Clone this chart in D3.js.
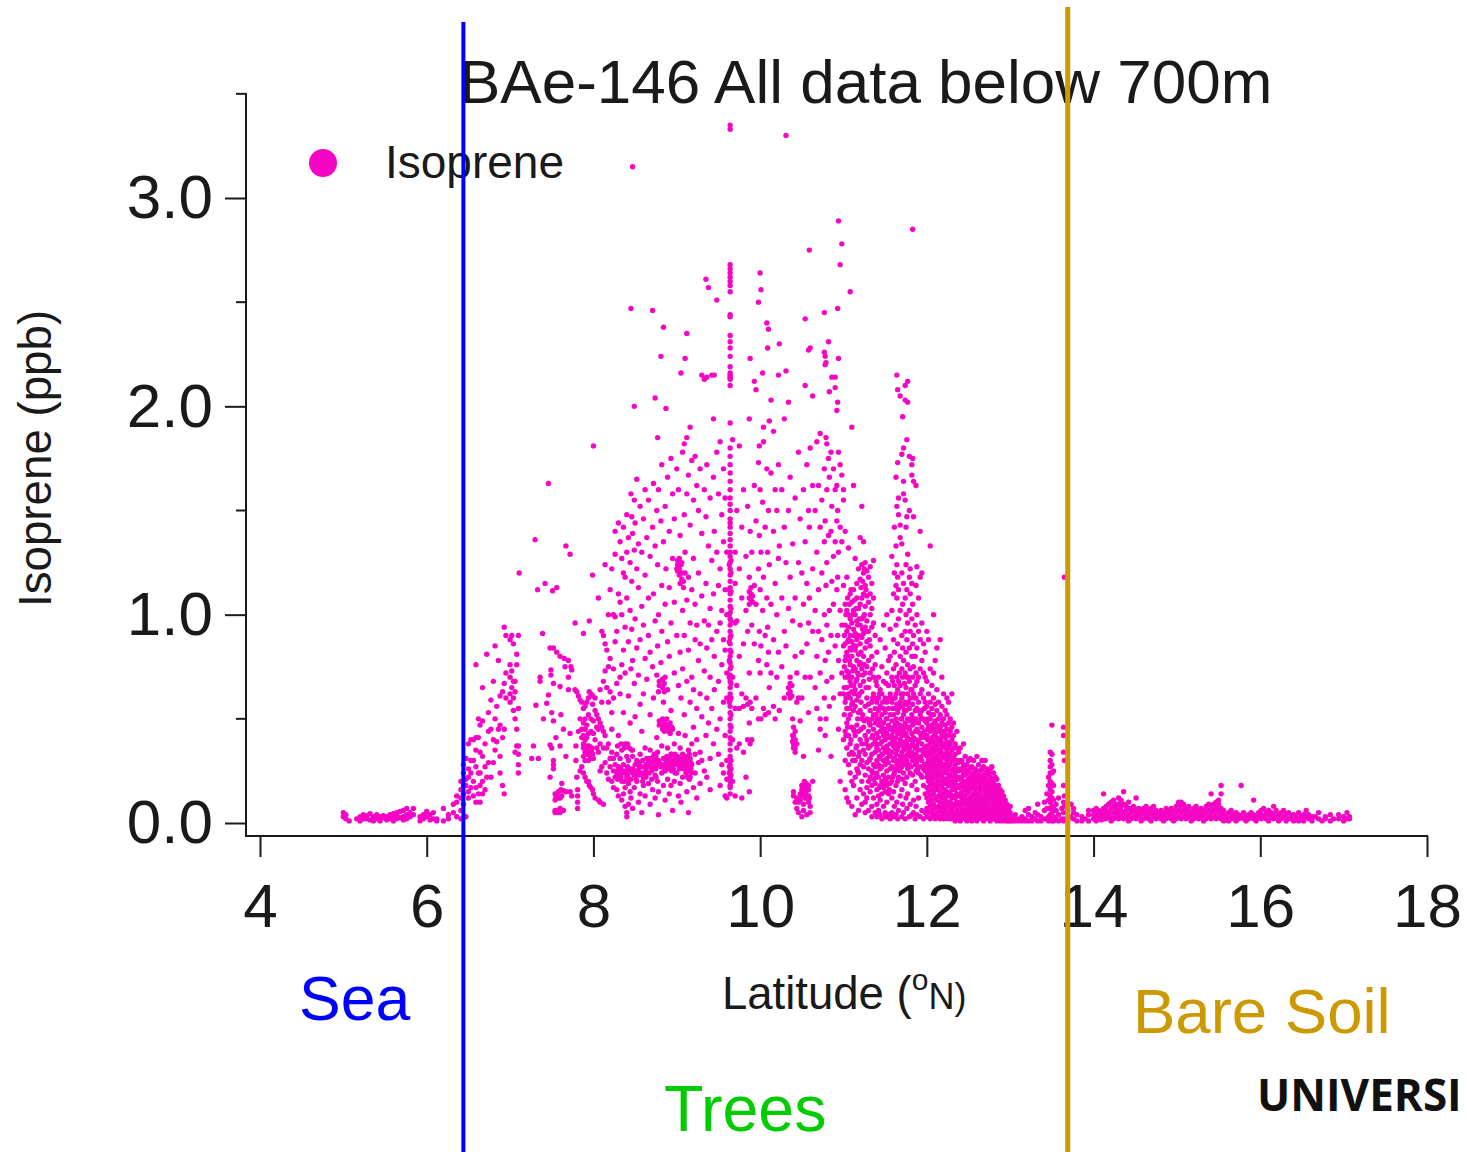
<!DOCTYPE html>
<html><head><meta charset="utf-8">
<script src="https://cdn.jsdelivr.net/npm/d3@7"></script>
<style>html,body{margin:0;padding:0;background:#fff;overflow:hidden}svg{display:block}</style>
</head><body><div id="chart"></div>
<script>
// Each row: [latitude, isoprene, isoprene, ...]
const seaRows=[[5.0,.05,.03],[5.03,.02,.04],[5.07,.01],[5.16,.02],[5.2,.03,.01],[5.24,.04,.02],[5.28,.02,.035],[5.32,.015,.045],[5.36,.03,.01],[5.4,.02,.04],[5.44,.01,.03],[5.48,.025,.035],[5.52,.015,.03],[5.56,.02,.04],[5.6,.01,.03,.045],[5.64,.02,.04,.05],[5.68,.025,.055],[5.72,.03,.06,.015],[5.76,.04,.07,.02],[5.8,.05,.03],[5.84,.07,.04],[5.92,.01,.03],[5.96,.02,.04],[6.0,.03,.055],[6.04,.04,.015],[6.08,.05,.02],[6.12,.02,.01],[6.2,.07,.01],[6.26,.02,.04],[6.32,.05,.09],[6.36,.03,.1,.13]];
const coastRows=[[6.41,.02,.06,.12,.16,.2],[6.44,.09,.14,.18,.24,.28],[6.47,.03,.18,.21,.31],[6.5,.12,.15,.22,.26,.38],[6.53,.17,.24,.3,.4],[6.56,.13,.2,.3,.4],[6.59,.1,.17,.27,.35,.41,.76],[6.62,.14,.24,.41,.5],[6.64,.1,.18,.34,.24,.47],[6.67,.14,.2,.32,.49,.65],[6.7,.16,.27,.38],[6.72,.22,.81],[6.74,.29,.44,.53],[6.77,.22,.45,.59],[6.8,.29,.4,.68],[6.82,.35,.5,.85],[6.84,.39,.56],[6.86,.45,.78],[6.88,.24,.32,.47,.61],[6.91,.18,.41,.63],[6.93,.14,.45,.67,.94],[6.95,.6,.72,.9],[7.0,.58,.62,.7,.76,.88],[7.02,.65,.73,.9],[7.04,.54,.6,.68,.86],[7.06,.34,.5,.63,.68],[7.08,.37,.45,.76,.81],[7.1,.24,.28,.33,.37,.55,.9]];
const westRows=[[7.11,1.2],[7.26,.31],[7.28,.37],[7.3,1.36],[7.31,.565],[7.33,1.12],[7.34,.31],[7.36,.7,.68],[7.39,.91],[7.4,.5],[7.42,1.15],[7.44,.575],[7.46,.615,1.63],[7.48,.22,.375,.84],[7.49,.71,.735],[7.5,.53,.36],[7.51,1.115],[7.52,.26,.28,.3,.49,.67,.84],[7.54,.11,.14,.05,.06],[7.55,.41,.12],[7.56,.82,1.13,.06,.14],[7.58,.05,.12,.15],[7.6,.05,.07,.37,.655,.8,.12],[7.61,.52,.16],[7.62,.19,.06,.13],[7.64,.45,.06,.155],[7.65,.79],[7.66,.75],[7.67,.32,1.33,.15],[7.7,.64,.7,.78],[7.72,.43,1.29,.15],[7.73,.75],[7.74,.735,.13],[7.78,.64,.96],[7.79,.37,.3],[7.8,.22,.63],[7.81,.07,.16,.13,.1],[7.82,.61,.44],[7.84,.59,.5,.25],[7.86,.58,.45,.41,.27],[7.88,.91,.36,.38,.32,.42,.48,.24,.55],[7.9,.34,.4,.45,.5,.56,.22,.3],[7.92,.33,.35,.37,.41,.47,.2,.58],[7.94,.3,.34,.43,.52,.6,.2],[7.95,.97,.33,.37,.63,.18],[7.97,.36,.5,.44,.17,.62],[7.99,1.19,.33,.57,.16,.61]];
const midARows=[[8.0,1.81,.31,.49,.43,.14],[8.02,.6,.54,.4,.12],[8.04,.52,.36,.46],[8.06,1.08,.5,.45,.11,.34],[8.08,.48,.38,.64,.1,.25],[8.1,.46,.92,.58,.27],[8.12,.44,.9,.68,.09,.36],[8.14,1.24,.86,.42,.29,.73],[8.16,.83,.65,.36,.24],[8.18,.38,.75,.58,.21,1.0],[8.2,.27,.79,.31,1.12,.63],[8.22,1.22,.53,.2,.34,.45],[8.24,.6,.25,.31,.17,.74,1.0],[8.26,1.4,1.29,.99,.87,.28,.22],[8.28,.67,.33,.23,.16,.92],[8.3,1.44,1.1,.42,.27,.13],[8.32,1.35,1.06,.7,.31,.24,.62],[8.34,1.27,1.0,.76,.35,.2,.11],[8.36,1.42,1.2,.83,.53,.28,.14],[8.38,1.18,.94,.72,.38,.25,.17,.08],[8.4,1.48,1.3,1.08,.32,.22,.05,.03],[8.42,1.37,.87,.61,.3,.19,.09],[8.44,1.25,1.02,.48,.26,.15],[8.45,2.47,1.58,.74,.21,.12],[8.46,1.47,1.16,.93,.35],[8.47,3.15,1.39,.78,.32,.07],[8.49,2.0,1.55,1.31,.67,.23,.17],[8.5,1.44,.98,.51,.28],[8.52,1.65,1.22,.84,.3,.2],[8.54,1.34,1.13,.71,.25,.1],[8.56,1.52,.88,.57,.33,.14],[8.58,1.3,1.04,.44,.27,.05],[8.6,1.46,.95,.62,.22,.18],[8.62,1.6,1.19,.79,.36,.13],[8.64,1.37,.69,.31,.24],[8.66,1.55,1.08,.9,.29,.19],[8.68,1.28,.82,.52,.35,.09],[8.71,2.46,1.42,.75,.26,.16],[8.72,1.63,1.1,.6,.32],[8.74,2.04,1.33,.97,.23,.12],[8.76,1.5,.71,.41,.28],[8.77,1.85,1.24,.85,.34,.2],[8.78,1.6,1.0,.63,.3,.15,.04],[8.81,2.24,1.45,.77,.27],[8.82,1.72,1.14,.92,.37,.24],[8.84,2.38,1.35,.58,.31,.18],[8.86,1.52,1.05,.7,.25,.11],[8.87,1.99,1.22,.47,.3],[8.89,1.66,.87,.64,.36,.21],[8.91,1.4,1.13,.8,.28,.14],[8.93,1.75,.96,.54,.33,.18],[8.95,1.58,1.27,.45,.26,.06],[8.97,1.46,1.06,.72,.38,.2]];
const midBRows=[[9.0,1.7,1.22,.9,.31,.24],[9.02,1.6,.66,.43,.28,.13],[9.04,1.38,1.15,.82,.36,.19],[9.05,2.16,1.24,.6,.27,.1],[9.07,1.78,1.02,.74,.33,.22],[9.09,1.82,1.48,.9,.52,.3],[9.1,2.23,1.3,1.2,.42,.26],[9.12,2.35,1.85,1.58,1.07,.68,.15],[9.14,1.67,1.18,.83,.35,.05],[9.16,1.9,1.43,.96,.58,.31,.22],[9.18,1.74,1.12,.7,.38,.28],[9.2,1.55,1.27,.64,.46,.17],[9.22,1.76,1.05,.88,.33,.24],[9.24,1.62,.95,.55,.4,.12],[9.26,1.5,1.2,.78,.29],[9.28,1.7,.86,.62,.19,.34],[9.3,2.15,1.39,1.09,.51,.3],[9.33,2.13,1.6,.97,.73,.25],[9.35,2.61,1.47,1.15,.42],[9.36,2.14,1.72,.84,.6,.22],[9.38,2.57,1.33,.95,.48],[9.4,1.56,1.03,.7,.31,.16],[9.42,2.15,1.26,.88,.55],[9.44,1.94,1.66,1.1,.38],[9.45,2.15,1.4,.8,.64],[9.48,2.51,1.78,1.3,.92,.45],[9.5,1.58,1.14,.68,.33],[9.52,1.83,1.22,.96,.5,.18],[9.54,1.48,1.02,.76,.28],[9.56,1.7,1.35,.88,.58,.24],[9.58,1.56,1.12,.83,.42,.13],[9.6,1.3,1.0,.72,.6,.3,.21,.12]];
const stripeRows=[[9.64,3.35,3.33,2.68,2.66,2.64,2.62,2.6,2.58,2.55,2.44,2.43,2.34,2.31,2.28,2.24,2.19,2.16,2.14,2.13,2.15,2.1,1.92,1.8,1.76,1.72,1.68,1.64,1.6,1.56,1.53,1.5,1.46,1.44,1.42,1.39,1.36,1.33,1.3,1.28,1.25,1.22,1.19,1.16,1.13,1.1,1.07,1.04,1.01,.98,.95,.92,.89,.86,.83,.8,.77,.74,.71,.68,.65,.62,.59,.56,.53,.5,.47,.44,.41,.38,.35,.32,.28,.25,.22,.2,.17,.14,.18],[9.65,1.26,1.2,1.11,1.03,.97,.9,.82,.75,.67,.6,.52,.46,.4,.3,.26,.23],[9.63,1.24,1.12,1.0,.87,.78,.7,.58,.24,.27]];
const centreRows=[[9.67,1.84,.7,.4,.2],[9.7,1.3,1.15,.96,.55,.13],[9.72,1.5,.97,.66,.36],[9.75,1.81,1.22,.8,.55,.38],[9.78,1.42,1.08,.62,.12],[9.8,1.6,.86,.56,.34],[9.83,1.28,1.02,.6,.22],[9.85,1.52,.92,.57,.4],[9.87,1.94,1.18,.72,.48,.15],[9.88,2.23,1.4,.58,.38],[9.9,1.3,.95,.55,.4],[9.93,2.12,1.62,1.14,.86],[9.95,2.08,1.45,1.05,.6],[9.98,2.5,1.73,1.22,.78,.5],[9.99,1.81,1.38,.92],[10.0,2.64,1.6,1.12,.72],[10.01,2.56,1.3,.85,.5],[10.03,2.16,1.54,1.02],[10.04,1.9,1.83,1.18,.55],[10.06,1.42,.9,.52],[10.08,2.4,1.7,1.08,.76],[10.09,2.28,1.3,.94],[10.1,2.37,1.5,.82,.53],[10.11,1.93,1.24,.65],[10.13,2.03,1.68,1.05,.72],[10.16,1.88,1.4,.88,.56],[10.18,1.6,1.15,.5],[10.2,1.5,1.0,.7],[10.22,2.15,1.72,1.27,.82],[10.23,2.3,1.33,.54],[10.26,1.6,1.08,.75],[10.29,1.94,1.42,.92,.6],[10.31,3.3,2.17,1.25,.85],[10.34,2.02,1.5,1.03],[10.36,1.66,1.18,.7],[10.39,1.34,.97,.5,.42,.39],[10.4,.46,.38,.15,.13],[10.42,1.56,1.08,.8,.4,.36,.1],[10.44,.72,.58,.38,.12,.07],[10.46,1.78,1.25,.6,.1,.05],[10.48,1.46,.95,.49,.11,.14],[10.5,1.2,.82,.6,.14,.03],[10.52,1.6,1.05,.32,.09,.06],[10.54,2.42,2.1,1.35,.7,.12],[10.56,1.72,1.15,.86,.16,.04],[10.58,2.27,1.5,.96,.53,.1],[10.59,2.75,1.42,1.08,.12],[10.6,2.28,1.8,.7,.08,.05],[10.63,2.05,1.62,1.22,.92,.2],[10.66,1.5,1.02,.65],[10.68,1.83,1.3,.8,.55],[10.7,1.62,1.12,.92,.35],[10.72,1.87,1.42,.72,.5,.45],[10.74,1.55,1.2,.88],[10.77,2.45,2.26,1.7,1.35,1.0,.6],[10.78,2.24,2.2,1.45,.78,.42],[10.79,2.21,1.85,1.14,.5],[10.8,1.82,1.6,1.25,.95,.68],[10.82,2.31,1.75,1.38,.82],[10.83,2.07,1.66,1.02,.56],[10.85,1.78,1.4,.9,.32],[10.86,2.14,1.52,1.16,.7],[10.88,1.7,1.28,1.05,.6],[10.9,2.14,2.09,1.6,1.35,.85],[10.92,1.98,1.62,1.45,1.12],[10.93,2.47,2.02,1.5,1.18,.9],[10.94,2.89,2.23,1.78,1.3,.78,.45],[10.96,2.68,1.72,1.42,1.02,.62,.2],[10.98,2.78,1.67,1.35,.95,.72],[11.0,1.55,1.6,1.14,.85,.62,.4]];
const clusterRows=[[7.96,.33,.35,.31],[7.98,.36,.32,.34],[8.29,.25,.21,.37],[8.33,.26,.22,.38],[8.37,.24,.2,.36],[8.41,.27,.23,.38],[8.43,.21,.25,.36],[8.47,.24,.26,.35],[8.51,.21,.25,.23],[8.55,.27,.23,.29],[8.59,.24,.3,.2],[8.63,.26,.22,.28],[8.67,.24,.31,.27],[8.7,.25,.29,.21],[8.73,.27,.3,.33],[8.75,.26,.22,.32],[8.79,.47,.49,.68,.66,.29],[8.83,.45,.47,.5,.65,.69,.28],[8.85,.48,.44,.67,.63,.26],[8.88,.46,.5,.32,.28],[8.9,.47,.44,.3,.26],[8.92,.43,.48,.31,.27],[8.94,.46,.33,.29,.25],[8.96,.3,.28,.26],[8.98,.29,.31,.33,.24],[9.01,1.24,1.21,1.26,.28,.32,.3],[9.03,1.27,1.22,1.19,.3,.26],[9.06,1.25,1.2,1.17,.29,.27,.31],[9.08,1.16,1.13,.3,.28,.26],[9.11,.32,.29,.27,.24],[9.13,.31,.28,.25,.22],[9.15,.33,.3,.27,.21],[9.17,.29,.26,.24],[9.87,1.11,1.08,1.05],[9.89,1.13,1.1,1.07],[9.91,1.09,1.06],[10.34,.65,.62],[10.36,.63,.67,.6],[10.38,.66,.61],[10.4,.42,.4,.36],[10.42,.44,.34],[10.5,.18,.16,.13],[10.53,.17,.14,.2],[10.55,.19,.15,.12],[10.58,.16,.13,.18],[11.01,.9,.75,.65,.52],[11.03,1.0,.8,.6,.42],[11.05,1.08,.87,.7,.46],[11.07,1.05,.78,.55,.33],[11.09,1.12,.83,.66,.4],[11.11,1.0,.73,.58,.3],[11.13,1.07,.9,.62,.44],[11.15,1.03,.85,.68,.36],[11.17,.95,.72,.5,.25],[11.19,.98,.76,.62,.34],[11.21,1.13,.82,.58,.45],[11.23,1.16,.93,.71,.52],[11.25,1.22,1.0,.76,.49],[11.27,1.12,.92,.65,.38],[11.31,.88,.69,.48,.3],[11.35,.74,.6,.42,.24],[11.39,.68,.52,.38,.22],[11.43,.62,.5,.32,.17],[11.47,.58,.44,.33,.19],[11.51,.67,.5,.36,.2],[11.55,.6,.46,.33,.16],[11.59,.68,.55,.4,.22],[11.62,.6,.47,.36,.25],[11.67,.72,.56,.44,.27],[11.69,.62,.5,.39,.31],[11.73,.67,.54,.42,.32],[11.78,.7,.58,.46,.35],[11.81,.64,.5,.37,.27],[11.85,.6,.48,.4,.3],[11.89,.54,.44,.35,.26],[11.93,.5,.41,.32,.23],[11.97,.55,.44,.36,.28],[12.01,.5,.45,.4,.34,.29,.24],[12.05,.52,.46,.39,.34,.27,.22],[12.09,.48,.42,.36,.31,.26,.16],[12.13,.46,.4,.35,.3,.24,.19],[12.17,.44,.39,.34,.29,.23,.13],[12.21,.43,.37,.32,.27,.21,.12],[12.25,.42,.36,.31,.26,.2,.1]];
const denseARows=[[11.02,1.4,1.05,.95,.86,.78,.7,.58,.44,.3,.16],[11.04,1.18,1.02,.92,.82,.73,.65,.55,.48,.36,.12],[11.06,1.32,1.0,.94,.88,.8,.72,.62,.5,.42,.28,.1],[11.08,2.55,1.1,.98,.9,.84,.76,.68,.6,.52,.38,.24],[11.1,1.9,1.06,.96,.87,.8,.7,.63,.57,.46,.34,.2,.08],[11.12,1.62,1.12,1.02,.93,.85,.75,.66,.54,.45,.33,.18],[11.14,1.27,1.0,.91,.83,.74,.64,.56,.42,.3,.22,.04],[11.16,1.15,1.08,.97,.88,.78,.69,.59,.47,.37,.26,.12],[11.18,1.22,1.03,.9,.81,.71,.61,.53,.44,.32,.24,.06],[11.2,1.37,1.17,1.05,.95,.86,.77,.66,.54,.4,.28,.16],[11.22,1.52,1.24,1.08,.98,.89,.74,.63,.5,.38,.3,.2,.09],[11.24,1.35,1.2,1.1,.99,.91,.8,.68,.46,.35,.27,.14],[11.26,1.25,1.14,1.04,.94,.84,.72,.56,.42,.33,.23,.1,.05],[11.28,1.21,1.09,.97,.87,.75,.6,.5,.4,.29,.17,.12],[11.3,1.18,1.06,.92,.78,.65,.57,.44,.36,.26,.2,.06],[11.32,1.23,1.1,1.0,.85,.72,.54,.47,.37,.31,.22,.15],[11.34,1.15,1.03,.94,.8,.58,.5,.41,.33,.25,.18,.08,.03],[11.36,1.26,1.08,.96,.7,.62,.52,.45,.38,.28,.21,.12],[11.38,.9,.76,.6,.55,.48,.4,.34,.27,.19,.05],[11.4,.82,.66,.58,.5,.43,.36,.3,.24,.16,.09,.03],[11.42,.7,.6,.54,.47,.41,.35,.28,.22,.13,.06],[11.44,.88,.64,.56,.49,.44,.38,.31,.26,.18,.11,.04],[11.46,.75,.62,.52,.46,.39,.33,.27,.2,.14,.02],[11.48,.95,.68,.55,.48,.42,.36,.3,.23,.17,.08],[11.5,.84,.6,.53,.45,.4,.34,.28,.21,.15,.05,.03]];
const denseBRows=[[11.52,1.0,.72,.58,.5,.43,.37,.31,.25,.18,.1,.03],[11.54,.78,.66,.55,.47,.41,.35,.29,.22,.14,.04],[11.56,.93,.8,.62,.52,.45,.38,.32,.26,.19,.02],[11.58,1.28,1.02,.7,.58,.49,.42,.34,.27,.2,.12,.05],[11.6,1.1,.88,.74,.6,.52,.44,.37,.3,.23,.15,.03],[11.61,1.42,1.2,.82,.66,.55,.46,.39,.31,.24,.08],[11.63,1.66,1.33,1.14,.95,.76,.62,.5,.41,.33,.26,.18,.04],[11.64,2.15,1.52,1.24,1.08,.7,.57,.48,.35,.28,.1],[11.65,2.08,1.73,1.18,.86,.64,.53,.43,.36,.29,.2,.02],[11.66,1.56,1.48,1.12,.98,.68,.55,.45,.38,.3,.22,.06],[11.68,2.05,1.43,1.37,1.02,.8,.66,.58,.47,.4,.32,.25,.13],[11.7,1.77,1.34,1.2,.9,.74,.6,.5,.42,.34,.27,.16,.03],[11.71,1.95,1.05,.84,.7,.56,.46,.37,.29,.21,.09],[11.72,1.8,1.64,1.58,1.15,.78,.62,.52,.44,.35,.24,.05],[11.74,2.1,2.03,1.55,1.08,.92,.72,.58,.48,.39,.31,.19,.02],[11.75,1.42,1.24,1.0,.82,.65,.54,.43,.36,.28,.12],[11.76,1.84,1.47,1.12,.88,.7,.57,.46,.38,.3,.22,.07],[11.77,2.12,2.02,1.29,.96,.76,.62,.5,.41,.33,.26,.14],[11.79,1.76,1.5,1.18,1.02,.84,.68,.55,.45,.36,.28,.03],[11.8,1.22,1.1,.92,.74,.6,.49,.4,.32,.24,.09],[11.82,1.72,1.67,1.15,.98,.8,.64,.52,.43,.34,.18,.04],[11.83,2.85,1.75,1.05,.86,.7,.57,.47,.38,.3,.23],[11.84,1.64,1.47,.9,.75,.62,.5,.41,.32,.11,.05],[11.86,.95,.8,.66,.54,.44,.36,.28,.2,.02],[11.87,1.62,1.14,.72,.6,.5,.4,.33,.25,.08],[11.88,1.23,1.0,.84,.68,.55,.45,.37,.29,.16,.04],[11.9,1.08,.92,.7,.58,.48,.39,.31,.24,.12],[11.92,1.4,1.18,.88,.74,.62,.52,.43,.35,.27,.03],[11.94,1.2,.96,.78,.64,.54,.46,.38,.3,.22,.06],[11.96,.86,.72,.6,.5,.42,.34,.26,.18,.02],[11.98,.82,.7,.58,.49,.41,.33,.25,.14,.05]];
const denseCRows=[[12.0,.92,.68,.56,.48,.42,.37,.32,.27,.22,.17,.12,.07,.03],[12.02,.88,.62,.53,.46,.4,.35,.3,.25,.2,.15,.1,.05],[12.04,1.33,.74,.58,.5,.44,.38,.33,.28,.23,.18,.13,.08,.02],[12.06,.66,.55,.47,.41,.36,.31,.26,.21,.16,.11,.06,.03],[12.08,1.0,.72,.6,.52,.45,.39,.34,.29,.24,.19,.14,.09,.04],[12.1,.78,.57,.49,.43,.37,.32,.27,.22,.17,.12,.07,.02],[12.12,.84,.64,.54,.47,.41,.36,.31,.26,.21,.16,.11,.05],[12.14,.58,.5,.44,.38,.33,.28,.23,.18,.13,.08,.03],[12.16,.88,.52,.46,.4,.35,.3,.25,.2,.15,.1,.06,.02],[12.18,.7,.56,.48,.42,.37,.32,.27,.22,.17,.12,.07,.04],[12.2,.62,.5,.44,.38,.33,.28,.24,.19,.14,.09,.05,.02],[12.22,.54,.47,.41,.36,.31,.26,.21,.16,.11,.07,.03],[12.24,.6,.52,.45,.39,.34,.29,.24,.19,.15,.1,.05,.02],[12.26,.58,.48,.42,.37,.32,.27,.22,.18,.13,.08,.04],[12.28,.5,.44,.38,.33,.28,.23,.19,.14,.1,.06,.02],[12.3,.62,.46,.4,.35,.3,.25,.2,.16,.12,.07,.03],[12.32,.48,.42,.36,.31,.26,.22,.18,.13,.09,.05,.02],[12.34,.38,.33,.28,.24,.2,.16,.12,.08,.04,.01],[12.36,.44,.36,.3,.26,.22,.18,.14,.1,.06,.03],[12.38,.34,.29,.25,.21,.17,.13,.09,.05,.02],[12.4,.36,.3,.26,.22,.18,.14,.1,.07,.03,.01],[12.42,.3,.26,.22,.19,.15,.12,.08,.05,.02],[12.44,.38,.28,.24,.2,.17,.13,.1,.06,.03],[12.46,.32,.26,.23,.19,.16,.12,.09,.05,.02],[12.48,.28,.24,.2,.17,.14,.1,.07,.04,.01],[12.5,.3,.25,.21,.18,.15,.11,.08,.05,.02],[12.52,.31,.26,.22,.19,.16,.12,.09,.06,.03],[12.54,.27,.23,.2,.17,.13,.1,.07,.04,.01],[12.56,.3,.24,.21,.18,.14,.11,.08,.05,.02],[12.58,.26,.22,.19,.16,.13,.1,.07,.04,.02],[12.6,.32,.25,.21,.17,.14,.11,.08,.05,.01],[12.62,.28,.23,.2,.17,.13,.1,.07,.04,.02],[12.64,.25,.21,.18,.15,.12,.09,.06,.03],[12.66,.3,.26,.22,.19,.16,.12,.09,.05,.02],[12.68,.27,.23,.2,.16,.13,.1,.07,.04,.01],[12.7,.3,.24,.21,.18,.14,.11,.08,.05,.02],[12.72,.26,.23,.19,.16,.13,.1,.07,.03],[12.74,.24,.2,.17,.14,.11,.08,.05,.02],[12.76,.26,.22,.18,.15,.12,.09,.06,.03,.01],[12.78,.27,.21,.18,.15,.12,.09,.06,.04,.02],[12.8,.24,.2,.17,.14,.11,.08,.05,.02],[12.82,.22,.18,.15,.12,.09,.07,.04,.02],[12.84,.21,.17,.14,.11,.08,.05,.03,.01],[12.86,.18,.15,.12,.1,.07,.05,.02],[12.88,.16,.13,.11,.08,.06,.03,.01],[12.9,.15,.12,.09,.07,.05,.02],[12.92,.13,.1,.08,.05,.03,.01],[12.94,.11,.08,.06,.04,.02],[12.96,.09,.07,.05,.03,.01],[12.98,.07,.05,.03,.01],[13.0,.08,.05,.02,.01],[13.03,.03,.01],[13.06,.04,.02,.01],[13.1,.02,.01],[13.14,.03,.01],[13.18,.06,.02,.01],[13.22,.07,.04,.01],[13.26,.03,.01],[13.3,.05,.02]];
const ridgeRows=[[13.33,.09,.04,.01],[13.37,.03,.01],[13.41,.1,.06,.02],[13.44,.14,.07,.02],[13.46,.22,.18,.11,.07,.03,.01],[13.48,.34,.3,.27,.24,.2,.16,.13,.1,.07,.04,.02],[13.5,.47,.33,.28,.24,.19,.15,.12,.08,.05,.02,.01],[13.52,.25,.18,.11,.07,.03,.01],[13.55,.09,.06,.02],[13.58,.12,.04,.01],[13.62,.07,.02],[13.64,.46,.42,.34,.18,.1,.05,.01],[13.65,1.18,.3,.13,.08,.02],[13.69,.06,.02,.01],[13.73,.09,.03],[13.76,.07,.05,.02],[13.8,.04,.01],[13.86,.03,.01],[13.9,.02],[13.94,.06,.04,.01]];
const bareRows=[[14.0,.02,.04,.06],[14.03,.01,.03,.05,.07],[14.06,.02,.04,.06],[14.09,.015,.035,.055],[14.12,.02,.05,.07,.14],[14.15,.02,.04,.06,.08],[14.18,.03,.05,.09],[14.21,.01,.03,.07,.1],[14.24,.02,.05,.08,.11],[14.27,.03,.05,.07,.09],[14.3,.02,.04,.06,.09,.12],[14.33,.03,.06,.08,.11],[14.36,.02,.05,.09,.15],[14.39,.03,.06,.08],[14.42,.01,.04,.07,.1],[14.45,.02,.05,.07],[14.48,.03,.06,.08],[14.51,.02,.04,.06,.12],[14.54,.03,.05,.07],[14.57,.01,.04,.06],[14.6,.02,.05,.07],[14.63,.03,.06,.08],[14.66,.02,.04,.06],[14.69,.01,.05,.07],[14.72,.03,.05,.08],[14.75,.02,.04,.06],[14.78,.03,.05],[14.81,.02,.04,.06],[14.84,.01,.03,.05],[14.87,.02,.05,.07],[14.9,.03,.05,.06],[14.93,.02,.04,.07],[14.96,.01,.03,.06],[14.99,.02,.05,.08],[15.02,.03,.06,.09,.1],[15.05,.02,.05,.08,.1],[15.08,.03,.06,.09],[15.11,.02,.04,.07],[15.14,.03,.06,.08],[15.17,.01,.04,.05],[15.2,.02,.05,.07],[15.23,.03,.05,.08],[15.26,.02,.04,.06],[15.29,.03,.05,.07],[15.32,.01,.04,.06],[15.35,.02,.05,.08],[15.38,.03,.06,.09],[15.41,.02,.05,.08,.14],[15.44,.03,.06,.09],[15.47,.02,.05,.07,.1],[15.5,.03,.06,.09,.11],[15.53,.02,.05,.07,.14,.18],[15.56,.01,.04,.06],[15.59,.02,.03],[15.62,.05,.01],[15.65,.03,.06,.02],[15.68,.02,.04],[15.71,.03,.05,.01],[15.74,.02,.04],[15.77,.03,.18],[15.8,.02,.05],[15.83,.01,.03],[15.86,.04,.02],[15.89,.03,.05],[15.92,.02,.04,.11],[15.95,.01,.03],[15.98,.03,.05],[16.01,.02,.04,.06],[16.04,.03,.07],[16.07,.02,.05],[16.1,.01,.04,.06],[16.13,.03,.05],[16.16,.02,.08,.04],[16.19,.03,.06],[16.22,.01,.04],[16.25,.02,.05],[16.28,.03,.06],[16.31,.01,.04],[16.34,.02,.05],[16.37,.02,.03],[16.4,.01,.04],[16.43,.02,.03],[16.46,.01,.05],[16.49,.02,.03],[16.52,.01,.04],[16.55,.03,.06],[16.58,.02,.04],[16.62,.01,.03],[16.66,.03],[16.7,.02,.05],[16.74,.01],[16.78,.03,.02],[16.84,.01,.04],[16.88,.02],[16.94,.02,.04],[17.0,.03,.01],[17.04,.05,.02],[17.07,.03,.02]];
const xTicks=[4,6,8,10,12,14,16,18];
const yMajor=[0,1,2,3];
const yMinor=[.5,1.5,2.5,3.5];
const yTickLabels=["0.0","1.0","2.0","3.0"];
const zoneLabels=["Sea","Trees","Bare Soil"];
const boundaries=[6.44,13.69];

const sans='"Liberation Sans",Arial,sans-serif';
const svg=d3.select("#chart").append("svg").attr("width",1467).attr("height",1152).style("font-family",sans);
const x=d3.scaleLinear().domain([4,18]).range([260,1427]);
const y=d3.scaleLinear().domain([0,3]).range([823,198]);
const ink="#1a1a1a", magenta="#f506c4";

const rows=[seaRows,coastRows,westRows,midARows,midBRows,stripeRows,centreRows,clusterRows,denseARows,denseBRows,denseCRows,ridgeRows,bareRows].flat();
const points=rows.flatMap(r=>r.slice(1).map(v=>[r[0],v]));
svg.append("g").selectAll("circle").data(points).join("circle")
  .attr("cx",d=>x(d[0])).attr("cy",d=>y(d[1])).attr("r",2.7).attr("fill",magenta);

const xAxis=d3.axisBottom(x).tickValues(xTicks).tickSize(21).tickSizeOuter(0).tickFormat(d3.format("d"));
const gx=svg.append("g").attr("transform","translate(0,836)").call(xAxis);
gx.select(".domain").remove();
gx.selectAll("line").attr("stroke",ink).attr("stroke-width",2);
gx.selectAll("text").attr("y",47).attr("dy","0.71em").style("font-size","62px").style("font-family",sans).attr("fill",ink);
svg.append("line").attr("x1",246).attr("x2",1428).attr("y1",836).attr("y2",836).attr("stroke",ink).attr("stroke-width",2);

const yAxis=d3.axisLeft(y).tickValues(yMajor).tickSize(21).tickSizeOuter(0).tickFormat((d,i)=>yTickLabels[i]);
const gy=svg.append("g").attr("transform","translate(246,0)").call(yAxis);
gy.select(".domain").remove();
gy.selectAll("line").attr("stroke",ink).attr("stroke-width",2);
gy.selectAll("text").attr("x",-33).attr("dy","0.32em").style("font-size","62px").style("font-family",sans).attr("fill",ink);
svg.append("g").selectAll("line").data(yMinor).join("line")
  .attr("x1",236).attr("x2",246).attr("y1",d=>y(d)).attr("y2",d=>y(d)).attr("stroke",ink).attr("stroke-width",2);
svg.append("line").attr("x1",246).attr("x2",246).attr("y1",93).attr("y2",837).attr("stroke",ink).attr("stroke-width",2);

svg.append("text").attr("x",459).attr("y",103).style("font-size","62px").attr("fill",ink).text("BAe-146 All data below 700m");
svg.append("circle").attr("cx",323).attr("cy",163).attr("r",14).attr("fill",magenta);
svg.append("text").attr("x",385).attr("y",178).style("font-size","46px").attr("fill",ink).text("Isoprene");
svg.append("text").attr("transform","translate(51,607) rotate(-90)").style("font-size","45.7px").attr("fill",ink).text("Isoprene (ppb)");
const xl=svg.append("text").attr("x",722).attr("y",1009).style("font-size","45.5px").attr("fill",ink);
xl.append("tspan").text("Latitude (");
xl.append("tspan").style("font-size","30px").attr("dy",-19).text("o");
xl.append("tspan").style("font-size","36px").attr("dy",19).text("N)");

svg.append("text").attr("x",299).attr("y",1020).style("font-size","62.5px").attr("fill","#0000ff").text(zoneLabels[0]);
svg.append("text").attr("x",664).attr("y",1131).style("font-size","64.5px").attr("fill","#00cc00").text(zoneLabels[1]);
svg.append("text").attr("x",1133).attr("y",1033).style("font-size","63.5px").attr("fill","#cc9900").text(zoneLabels[2]);
svg.append("text").attr("x",1257).attr("y",1111).style("font-size","44px").style("font-weight",700).style("font-family",'"Open Sans",sans-serif').attr("fill","#111").text("UNIVERSI");

svg.append("line").attr("x1",x(boundaries[0])).attr("x2",x(boundaries[0])).attr("y1",22).attr("y2",1152).attr("stroke","#0000ff").attr("stroke-width",4);
svg.append("line").attr("x1",x(boundaries[1])).attr("x2",x(boundaries[1])).attr("y1",7).attr("y2",1152).attr("stroke","#cc9900").attr("stroke-width",5);
</script></body></html>
